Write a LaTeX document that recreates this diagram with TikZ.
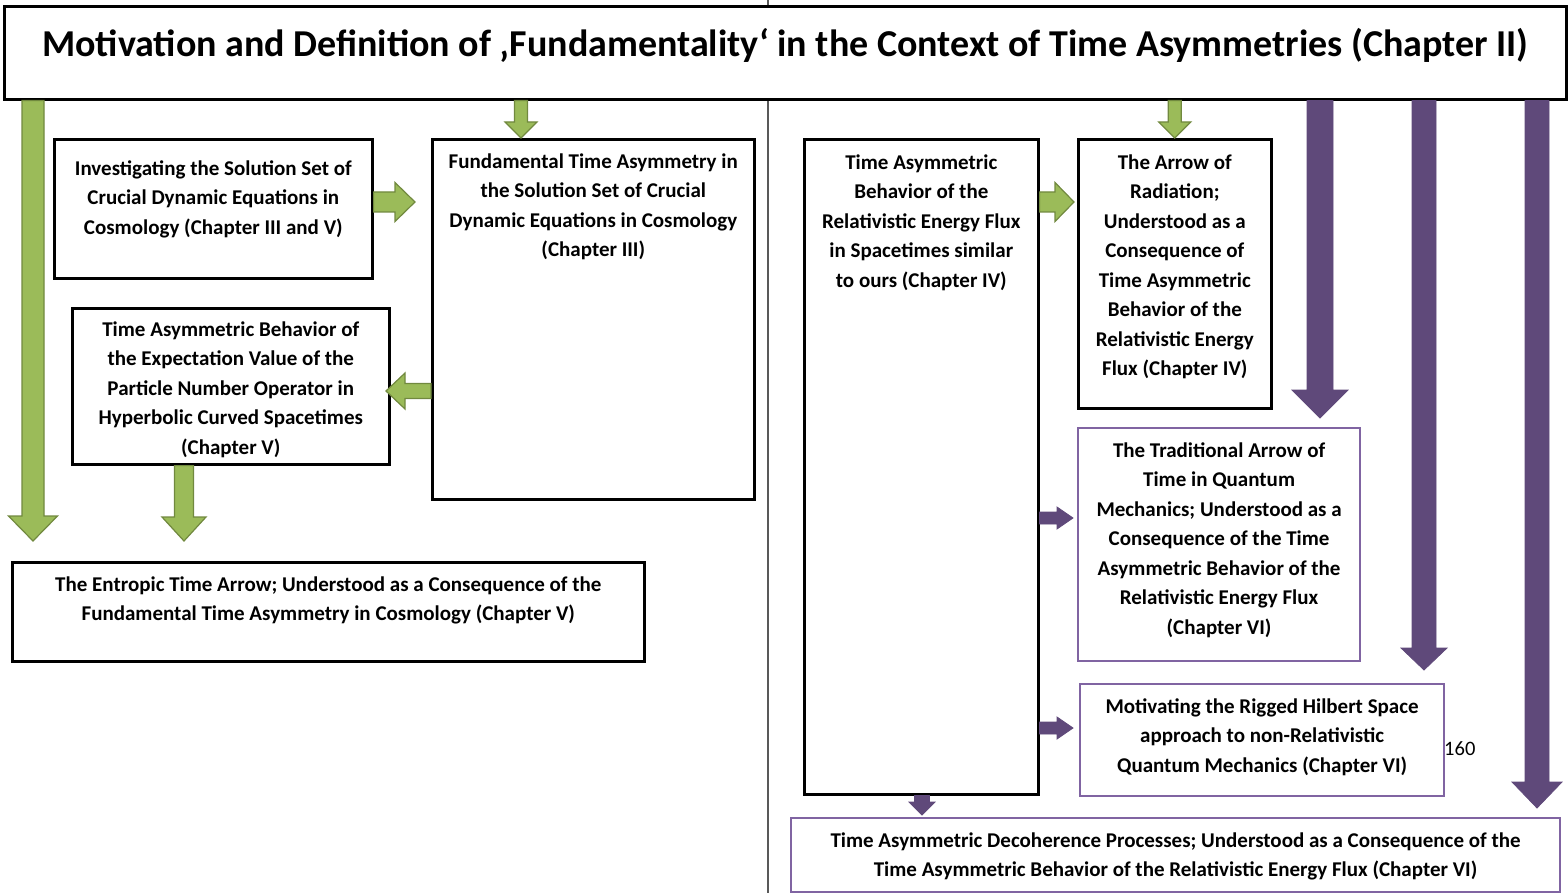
\documentclass[tikz,border=0pt]{standalone}
\usepackage{fontspec}
\setmainfont{Carlito}
\usetikzlibrary{arrows.meta,positioning,calc}
\definecolor{leaf}{HTML}{9BBB59}\definecolor{leafdk}{HTML}{71893F}
\definecolor{plum}{HTML}{5F497A}\definecolor{plumln}{HTML}{8064A2}
\tikzset{block/.style={draw=black,line width=2.6pt,fill=white,anchor=north west,align=flush center,inner xsep=4pt,inner ysep=0pt,text height=29pt,font=\fontsize{21}{29.5}\selectfont\bfseries},pblock/.style={block,draw=plumln,line width=2.2pt},
fat/.style n args={3}{to path={($(\tikztostart)!#1!90:(\tikztotarget)$)--($(\tikztotarget)!#3!(\tikztostart)!#1!90:(\tikztotarget)$)--($(\tikztotarget)!#3!(\tikztostart)!#2!90:(\tikztotarget)$)--(\tikztotarget)--($(\tikztotarget)!#3!(\tikztostart)!#2!-90:(\tikztotarget)$)--($(\tikztotarget)!#3!(\tikztostart)!#1!-90:(\tikztotarget)$)--($(\tikztostart)!#1!-90:(\tikztotarget)$)--cycle}},
gedge/.style={fill=leaf,draw=leafdk,line width=1.2pt},pedge/.style={fill=plum,draw=plum,line width=0.8pt}}
\begin{document}
\begin{tikzpicture}[x=1pt,y=-1pt]
\useasboundingbox(0,0)rectangle(1568,893);
\draw[gray!70!black,line width=1.2pt](768,0)--(768,893);
\node[block,text width=1554pt,text height=50pt,text depth=43pt,font=\fontsize{38}{43}\selectfont\bfseries](title)at(3,5){Motivation and Definition of ‚Fundamentality‘ in the Context of Time Asymmetries (Chapter II)};
% left half
\node[block,text width=310pt,text height=36pt,text depth=103pt](inv)at(53,138){Investigating the Solution Set of\\Crucial Dynamic Equations in\\Cosmology (Chapter III and V)};
\node[block,text width=314pt,text depth=331pt](fund)at(431,138){Fundamental Time Asymmetry in\\the Solution Set of Crucial\\Dynamic Equations in Cosmology\\(Chapter III)};
\node[block,text width=309pt,text height=28pt,text depth=128pt](part)at(71,307){Time Asymmetric Behavior of\\the Expectation Value of the\\Particle Number Operator in\\Hyperbolic Curved Spacetimes\\(Chapter V)};
\node[block,text width=624pt,text depth=70pt](entr)at(11,561){The Entropic Time Arrow; Understood as a Consequence of the\\Fundamental Time Asymmetry in Cosmology (Chapter V)};
% right half
\node[block,text width=226pt,text height=30pt,text depth=625pt](flux)at(803,138){Time Asymmetric\\Behavior of the\\Relativistic Energy Flux\\in Spacetimes similar\\to ours (Chapter IV)};
\node[block,text width=185pt,text height=30pt,text depth=239pt](rad)at(1077,138){The Arrow of\\Radiation;\\Understood as a\\Consequence of\\Time Asymmetric\\Behavior of the\\Relativistic Energy\\Flux (Chapter IV)};
\node[pblock,text width=274pt,text depth=204pt](trad)at(1077,427){The Traditional Arrow of\\Time in Quantum\\Mechanics; Understood as a\\Consequence of the Time\\Asymmetric Behavior of the\\Relativistic Energy Flux\\(Chapter VI)};
\node[pblock,text width=356pt,text depth=83pt](rig)at(1079,683){Motivating the Rigged Hilbert Space\\approach to non-Relativistic\\Quantum Mechanics (Chapter VI)};
\node[pblock,text width=761pt,text depth=45pt](dec)at(790,817){Time Asymmetric Decoherence Processes; Understood as a Consequence of the\\Time Asymmetric Behavior of the Relativistic Energy Flux (Chapter VI)};
\node[anchor=west,inner sep=0pt,font=\fontsize{20.5}{24}\selectfont](pg)at(1444,749){160};
% arrow tips
\coordinate(g1)at(33,541);\coordinate(g2)at(521,138);\coordinate(g3)at(415,202);\coordinate(g4)at(386,391);\coordinate(g5)at(184,541);\coordinate(g7)at(1074,202);
\coordinate(p8)at(1320,418);\coordinate(p9)at(1424,670);\coordinate(p10)at(1537,808);\coordinate(p11)at(1073,518);\coordinate(p12)at(1073,728);\coordinate(p13)at(922,815);
\draw[gedge,fat={11pt}{24.5pt}{25pt}](title.south-|g1)to(g1);\draw[gedge,fat={6.5pt}{16pt}{16pt}](title.south-|g2)to(g2);
\draw[gedge,fat={10pt}{19.5pt}{20pt}](inv.east|-g3)to(g3);\draw[gedge,fat={7.5pt}{18pt}{19pt}](fund.west|-g4)to(g4);
\draw[gedge,fat={9.5pt}{22pt}{24pt}](part.south-|g5)to(g5);\draw[gedge,fat={6.5pt}{16pt}{16pt}](title.south-|rad.north)to(rad.north);
\draw[gedge,fat={10pt}{19.5pt}{19pt}](flux.east|-g7)to(g7);
\draw[pedge,fat={13pt}{28pt}{28pt}](title.south-|p8)to(p8);\draw[pedge,fat={12pt}{23pt}{22pt}](title.south-|p9)to(p9);\draw[pedge,fat={12pt}{25pt}{26pt}](title.south-|p10)to(p10);
\draw[pedge,fat={6pt}{11pt}{16pt}](flux.east|-p11)to(p11);\draw[pedge,fat={6pt}{11pt}{16pt}](flux.east|-p12)to(p12);\draw[pedge,fat={7.5pt}{13pt}{13pt}](flux.south-|p13)to(p13);
\end{tikzpicture}
\end{document}
